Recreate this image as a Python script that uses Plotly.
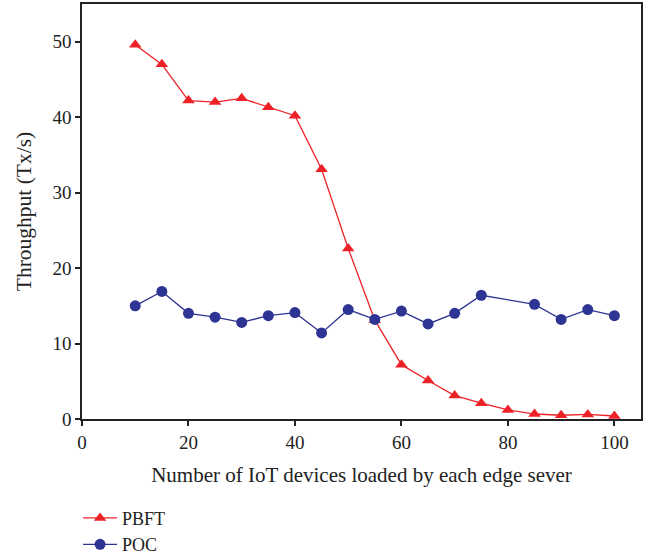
import plotly.graph_objects as go

x_pbft = [10, 15, 20, 25, 30, 35, 40, 45, 50, 55, 60, 65, 70, 75, 80, 85, 90, 95, 100]
y_pbft = [49.6, 47.0, 42.2, 42.0, 42.5, 41.3, 40.2, 33.1, 22.6, 13.1, 7.2, 5.1, 3.1, 2.1, 1.2, 0.66, 0.5, 0.6, 0.4]
x_poc = [10, 15, 20, 25, 30, 35, 40, 45, 50, 55, 60, 65, 70, 75, 85, 90, 95, 100]
y_poc = [15.0, 16.9, 14.0, 13.5, 12.8, 13.7, 14.1, 11.4, 14.5, 13.2, 14.3, 12.6, 14.0, 16.4, 15.2, 13.2, 14.5, 13.7]

red = "rgb(237,34,40)"
blue = "rgb(46,52,148)"
font = "Liberation Serif"

fig = go.Figure()
fig.add_trace(go.Scatter(x=x_pbft, y=y_pbft, name="PBFT", mode="lines+markers",
                         line=dict(color=red, width=1.3),
                         marker=dict(symbol="triangle-up", size=11, color=red)))
fig.add_trace(go.Scatter(x=x_poc, y=y_poc, name="POC", mode="lines+markers",
                         line=dict(color=blue, width=1.3),
                         marker=dict(symbol="circle", size=11, color=blue)))

axis_common = dict(showgrid=False, zeroline=False, showline=True, linecolor="#222",
                   linewidth=1.5, mirror=True, ticks="outside", ticklen=5,
                   tickcolor="#222", tickwidth=1.5, automargin=False,
                   tickfont=dict(family=font, size=19, color="#222"))
fig.update_xaxes(range=[0, 105], tick0=0, dtick=20,
                 title=dict(text="Number of IoT devices loaded by each edge sever",
                            font=dict(family=font, size=21, color="#222"), standoff=16),
                 **axis_common)
fig.update_yaxes(range=[0, 55], tick0=0, dtick=10,
                 title=dict(text="Throughput (Tx/s)",
                            font=dict(family=font, size=21.5, color="#222"), standoff=15),
                 **axis_common)

fig.update_layout(width=649, height=559, paper_bgcolor="white", plot_bgcolor="white",
                  margin=dict(l=82, r=8, t=4, b=140),
                  font=dict(family=font, size=18, color="#222"),
                  showlegend=True,
                  legend=dict(xref="paper", yref="container",
                              x=-0.007, y=0.106, xanchor="left", yanchor="top",
                              orientation="v", tracegroupgap=0,
                              font=dict(family=font, size=18, color="#222"),
                              itemwidth=34))

fig.write_html("out.html", config={"displayModeBar": False},
               post_script="document.body.style.margin='0';")
